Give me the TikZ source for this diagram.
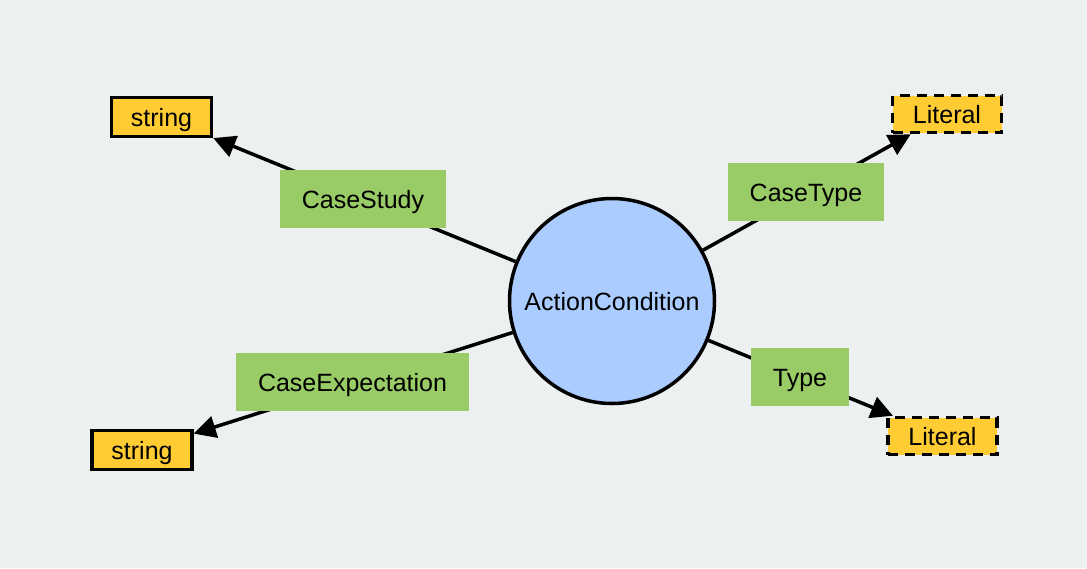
\documentclass[tikz,border=0pt]{standalone}
\usepackage{fontspec}
\setmainfont{Liberation Sans}
\usepackage{tikz}
\usetikzlibrary{shapes,arrows.meta,positioning}

\definecolor{bgGrey}{RGB}{236,240,241}
\definecolor{classBlue}{RGB}{170,204,255}
\definecolor{typeYellow}{RGB}{255,204,51}
\definecolor{propGreen}{RGB}{153,204,102}

\begin{document}
\begin{tikzpicture}[x=1pt,y=-1pt]
			\tikzstyle{Label}	= [font=\fontsize{25}{29}\selectfont, text height=18pt, text depth=0pt]
			\tikzstyle{Class} 	= [circle, draw, line width=3.5pt, fill=classBlue, minimum size=205pt, inner sep=0pt, Label]
			\tikzstyle{Datatype}	= [rectangle, draw, line width=3.5pt, fill=typeYellow, minimum height=39pt, inner sep=0pt, Label]
			\tikzstyle{Literal}	= [dash pattern=on 10pt off 7pt]
			\tikzstyle{Prop}	= [rectangle, fill=propGreen, minimum height=58pt, inner xsep=22pt, Label]
			\tikzstyle{Edge}	= [line width=3.5pt, -{Triangle[length=22pt,width=22pt]}]
			
			\fill[bgGrey] (0,0) rectangle (1087,568);
			\useasboundingbox (0,0) rectangle (1087,568);
			
			\node (ac) at (612, 301) [Class] {ActionCondition};
			\node (s1) at (161.5, 117) [Datatype, minimum width=100pt] {string};
			\node (s2) at (142, 450) [Datatype, minimum width=100pt] {string};
			\node (l1) at (947, 114) [Datatype, minimum width=109pt, minimum height=37pt][Literal] {Literal};
			\node (l2) at (942.5, 436) [Datatype, minimum width=109pt, minimum height=37pt][Literal] {Literal};
			
			\draw (ac) to (s1) [Edge];
			\draw (ac) to (s2) [Edge];
			\draw (ac) to (l1) [Edge];
			\draw (ac) to (l2) [Edge];
			
			\node (pStudy) at (363, 199) [Prop] {CaseStudy};
			\node (pType) at (806, 192) [Prop] {CaseType};
			\node (pExp) at (352.5, 382) [Prop] {CaseExpectation};
			\node (pT) at (800, 377) [Prop] {Type};
		\end{tikzpicture}
\end{document}
